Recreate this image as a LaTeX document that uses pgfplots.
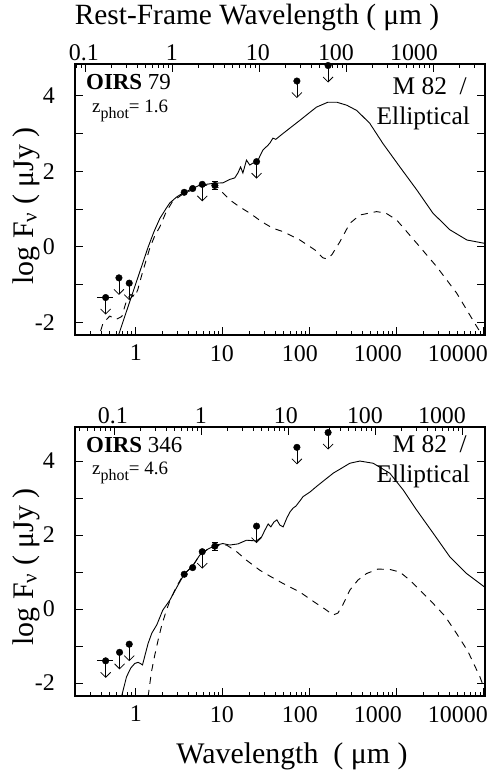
\documentclass[border=0pt]{standalone}
\usepackage{fontspec}
\setmainfont{Liberation Serif}
\usepackage{pgfplots}
\pgfplotsset{compat=1.18}
\usetikzlibrary{arrows.meta}

\tikzset{
  cSol/.style={black, line width=0.9bp},
  cDas/.style={black, line width=0.9bp, dash pattern=on 7bp off 6bp},
  cDot/.style={black, mark=*, mark size=3.3bp, mark options={fill=black, draw=black}},
  cUL/.style={black, line width=0.8bp, -{Straight Barb[length=5bp,width=10bp]}},
  cBar/.style={black, line width=0.8bp},
}
\newcommand{\tfont}{\fontsize{24}{25}\selectfont}
\newcommand{\lfont}{\fontsize{30}{31}\selectfont}

\begin{document}
\begin{tikzpicture}
% ---------------- top panel ----------------
\begin{axis}[at={(75bp,437bp)}, anchor=south west, scale only axis, width=410bp, height=271bp,
    ymin=-2.33, ymax=4.83, xmode=log, xmin=0.2, xmax=10300,
    tick align=inside, major tick length=8bp, minor tick length=4bp,
    every tick/.append style={black, line width=0.8bp},
    axis line style={line width=1.2bp},
    xtick pos=left, ytick pos=both,
    ytick={-2,-1,0,1,2,3,4}, yticklabels={-2,,0,,2,,4},
    xtick={1,10,100,1000,10000},
    minor xtick={0.3,0.4,0.5,0.6,0.7,0.8,0.9,2,3,4,5,6,7,8,9,20,30,40,50,60,70,80,90,200,300,400,500,600,700,800,900,2000,3000,4000,5000,6000,7000,8000,9000},
    xticklabels={1,\kern-2bp 10,\kern-20bp 100,\kern-38bp 1000,\kern-52bp 10000},
    tick label style={font=\tfont, inner sep=0pt},
    xticklabel shift=10bp, yticklabel shift=20bp]
\addplot[cSol] coordinates {(0.605,-2.47) (0.767,-1.76) (0.948,-1.13) (1.172,-0.50) (1.374,-0.03) (1.61,0.39) (1.89,0.75) (2.21,1.0) (2.46,1.16) (2.96,1.32) (3.47,1.42) (4.40,1.53) (5.44,1.63) (8.09,1.68) (10.0,1.69) (12.0,1.78) (13.7,1.82) (14.9,1.95) (16.0,2.11) (17.0,1.95) (18.7,2.29) (20.4,2.16) (22.1,2.21) (24.4,2.20) (26.6,2.39) (28.8,2.55) (31.2,2.63) (32.9,2.68) (34.7,2.74) (37.6,2.87) (40.6,2.84) (48.9,2.99) (76.7,3.34) (119,3.69) (161,3.82) (204,3.82) (266,3.74) (347,3.6) (489,3.26) (691,2.73) (1083,2.11) (1698,1.5) (2594,0.89) (4064,0.45) (6382,0.18) (10260,0.09)};
\addplot[cDas] coordinates {(0.356,-2.55) (0.421,-2.01) (0.502,-1.83) (0.589,-1.92) (0.691,-1.84) (0.789,-1.39) (0.877,-1.26) (0.974,-1.32) (1.054,-1.13) (1.172,-0.74) (1.30,-0.39) (1.45,-0.03) (1.65,0.29) (1.89,0.53) (2.21,0.9) (2.66,1.21) (3.47,1.39) (5.44,1.6) (8.09,1.66) (9.66,1.46) (12.0,1.24) (15.7,1.05) (20.4,0.89) (28.1,0.66) (37.6,0.49) (49.3,0.4) (76.7,0.18) (114,-0.08) (141,-0.29) (157,-0.32) (179,-0.21) (221,0.13) (288,0.62) (376,0.84) (584,0.93) (748,0.89) (993,0.71) (1683,0.10) (2858,-0.52) (4855,-1.22) (8245,-2.1) (10550,-2.5)};
\addplot[cUL] coordinates {(0.45,-1.34) (0.45,-1.79)};
\addplot[cUL] coordinates {(0.64,-0.82) (0.64,-1.27)};
\addplot[cUL] coordinates {(0.84,-0.96) (0.84,-1.41)};
\addplot[cUL] coordinates {(5.8,1.65) (5.8,1.20)};
\addplot[cUL] coordinates {(24.4,2.25) (24.4,1.80)};
\addplot[cUL] coordinates {(71,4.38) (71,3.93)};
\addplot[cUL] coordinates {(162,4.79) (162,4.34)};
\addplot[cBar] coordinates {(0.356,-1.34) (0.544,-1.34)};
\addplot[cBar] coordinates {(8.1,1.51) (8.1,1.73)};
\addplot[cBar] coordinates {(7.48,1.51) (8.77,1.51)};
\addplot[cBar] coordinates {(7.48,1.73) (8.77,1.73)};
\addplot[cDot, only marks] coordinates {(0.45,-1.34) (0.64,-0.82) (0.84,-0.96) (3.6,1.44) (4.5,1.54) (5.8,1.65) (8.1,1.62) (24.4,2.25) (71,4.38) (162,4.79)};
\end{axis}
\begin{axis}[at={(75bp,437bp)}, anchor=south west, scale only axis, width=410bp, height=271bp,
    xmode=log, xmin=0.076923, xmax=3961.5, ymin=0, ymax=1, hide y axis,
    tick align=inside, major tick length=8bp, minor tick length=4bp,
    every tick/.append style={black, line width=0.8bp},
    axis line style={line width=1.2bp},
    xtick pos=right, xticklabel pos=right,
    xtick={0.1,1,10,100,1000},
    minor xtick={0.08,0.09,0.2,0.3,0.4,0.5,0.6,0.7,0.8,0.9,2,3,4,5,6,7,8,9,20,30,40,50,60,70,80,90,200,300,400,500,600,700,800,900,2000,3000},
    xticklabels={\kern-2bp 0.1,1,\kern-2bp 10,\kern-20bp 100,\kern-38bp 1000},
    tick label style={font=\tfont, inner sep=0pt},
    xticklabel shift=3bp]
\end{axis}
% ---------------- bottom panel ----------------
\begin{axis}[at={(75bp,76bp)}, anchor=south west, scale only axis, width=410bp, height=269bp,
    ymin=-2.35, ymax=4.92, xmode=log, xmin=0.2, xmax=10300,
    tick align=inside, major tick length=8bp, minor tick length=4bp,
    every tick/.append style={black, line width=0.8bp},
    axis line style={line width=1.2bp},
    xtick pos=left, ytick pos=both,
    ytick={-2,-1,0,1,2,3,4}, yticklabels={-2,,0,,2,,4},
    xtick={1,10,100,1000,10000},
    minor xtick={0.3,0.4,0.5,0.6,0.7,0.8,0.9,2,3,4,5,6,7,8,9,20,30,40,50,60,70,80,90,200,300,400,500,600,700,800,900,2000,3000,4000,5000,6000,7000,8000,9000},
    xticklabels={1,\kern-2bp 10,\kern-20bp 100,\kern-38bp 1000,\kern-52bp 10000},
    tick label style={font=\tfont, inner sep=0pt},
    xticklabel shift=10bp, yticklabel shift=20bp]
\addplot[cSol] coordinates {(0.685,-2.37) (0.782,-1.83) (0.877,-1.59) (0.974,-1.47) (1.062,-1.44) (1.127,-1.47) (1.194,-1.51) (1.268,-1.27) (1.384,-0.93) (1.527,-0.65) (1.74,-0.43) (2.04,-0.03) (2.46,0.24) (2.96,0.59) (3.59,0.94) (4.48,1.16) (5.44,1.46) (6.73,1.62) (8.46,1.73) (10.0,1.77) (12.0,1.73) (14.9,1.76) (18.7,1.86) (24.4,1.84) (27.9,1.95) (30.4,2.13) (33.2,2.30) (35.6,2.22) (38.6,2.35) (41.8,2.41) (45.2,2.27) (49.3,2.22) (54.4,2.46) (58.9,2.62) (64.3,2.73) (69.0,2.78) (76.7,2.92) (83.7,3.04) (100,3.16) (119,3.31) (185,3.67) (288,3.94) (376,4.0) (534,3.94) (831,3.67) (1181,3.22) (1683,2.68) (2614,2.05) (4064,1.41) (6324,0.96) (10260,0.59)};
\addplot[cDas] coordinates {(1.384,-2.37) (1.514,-1.69) (1.653,-1.24) (1.804,-0.84) (1.99,-0.43) (2.25,-0.03) (2.46,0.22) (2.88,0.57) (3.50,0.92) (4.48,1.16) (5.44,1.46) (6.73,1.62) (8.46,1.72) (11.0,1.73) (14.1,1.57) (18.7,1.32) (26.6,1.05) (34.7,0.89) (49.3,0.69) (76.7,0.46) (119,0.15) (149,0.0) (185,-0.16) (210,-0.11) (239,0.11) (288,0.51) (356,0.78) (449,0.96) (605,1.08) (831,1.07) (1083,1.0) (1410,0.78) (1837,0.51) (2614,0.15) (3565,-0.19) (4855,-0.66) (6546,-1.14) (8995,-1.83) (10260,-2.19)};
\addplot[cUL] coordinates {(0.45,-1.40) (0.45,-1.86)};
\addplot[cUL] coordinates {(0.65,-1.17) (0.65,-1.63)};
\addplot[cUL] coordinates {(0.84,-0.95) (0.84,-1.41)};
\addplot[cUL] coordinates {(5.8,1.55) (5.8,1.09)};
\addplot[cUL] coordinates {(24.4,2.24) (24.4,1.78)};
\addplot[cUL] coordinates {(71,4.37) (71,3.91)};
\addplot[cUL] coordinates {(162,4.77) (162,4.31)};
\addplot[cBar] coordinates {(0.356,-1.40) (0.544,-1.40)};
\addplot[cBar] coordinates {(8.1,1.59) (8.1,1.81)};
\addplot[cBar] coordinates {(7.48,1.59) (8.77,1.59)};
\addplot[cBar] coordinates {(7.48,1.81) (8.77,1.81)};
\addplot[cDot, only marks] coordinates {(0.45,-1.40) (0.65,-1.17) (0.84,-0.95) (3.6,0.94) (4.5,1.12) (5.8,1.55) (8.1,1.70) (24.4,2.24) (71,4.37) (162,4.77)};
\end{axis}
\begin{axis}[at={(75bp,76bp)}, anchor=south west, scale only axis, width=410bp, height=269bp,
    xmode=log, xmin=0.035714, xmax=1839.3, ymin=0, ymax=1, hide y axis,
    tick align=inside, major tick length=8bp, minor tick length=4bp,
    every tick/.append style={black, line width=0.8bp},
    axis line style={line width=1.2bp},
    xtick pos=right, xticklabel pos=right,
    xtick={0.1,1,10,100,1000},
    minor xtick={0.04,0.05,0.06,0.07,0.08,0.09,0.2,0.3,0.4,0.5,0.6,0.7,0.8,0.9,2,3,4,5,6,7,8,9,20,30,40,50,60,70,80,90,200,300,400,500,600,700,800,900},
    xticklabels={\kern-2bp 0.1,1,\kern-4bp 10,\kern-20bp 100,\kern-40bp 1000},
    tick label style={font=\tfont, inner sep=0pt},
    xticklabel shift=3bp]
\end{axis}
% ---------------- texts ----------------
\node[anchor=base, inner sep=0pt, font=\fontsize{29.5}{31}\selectfont] at (257bp,747bp) {Rest-Frame Wavelength ( μm )};
\node[anchor=base, inner sep=0pt, font=\lfont] at (292bp,9bp) {Wavelength \ ( μm )};
\node[anchor=base, inner sep=0pt, rotate=90, font=\lfont] at (33bp,205bp) {log F\textsubscript{ν} ( μJy )};
\node[anchor=base, inner sep=0pt, rotate=90, font=\lfont] at (33bp,566bp) {log F\textsubscript{ν} ( μJy )};
\node[anchor=base west, inner sep=0pt, font=\fontsize{23}{24}\selectfont] at (86bp,682bp) {\textbf{OIRS} 79};
\node[anchor=base west, inner sep=0pt, font=\fontsize{19}{20}\selectfont] at (92bp,659bp) {z\raisebox{-6bp}{\fontsize{16}{16}\selectfont phot}= 1.6};
\node[anchor=base east, inner sep=0pt, font=\fontsize{25.5}{26}\selectfont] at (467bp,677bp) {M 82 \ /};
\node[anchor=base east, inner sep=0pt, font=\fontsize{25.5}{26}\selectfont] at (470bp,647bp) {Elliptical};
\node[anchor=base west, inner sep=0pt, font=\fontsize{23}{24}\selectfont] at (86bp,319bp) {\textbf{OIRS} 346};
\node[anchor=base west, inner sep=0pt, font=\fontsize{19}{20}\selectfont] at (92bp,297bp) {z\raisebox{-6bp}{\fontsize{16}{16}\selectfont phot}= 4.6};
\node[anchor=base east, inner sep=0pt, font=\fontsize{25.5}{26}\selectfont] at (467bp,319bp) {M 82 \ /};
\node[anchor=base east, inner sep=0pt, font=\fontsize{25.5}{26}\selectfont] at (470bp,289bp) {Elliptical};
\pgfresetboundingbox
\useasboundingbox (0,0) rectangle (497bp,772bp);
\end{tikzpicture}
\end{document}
